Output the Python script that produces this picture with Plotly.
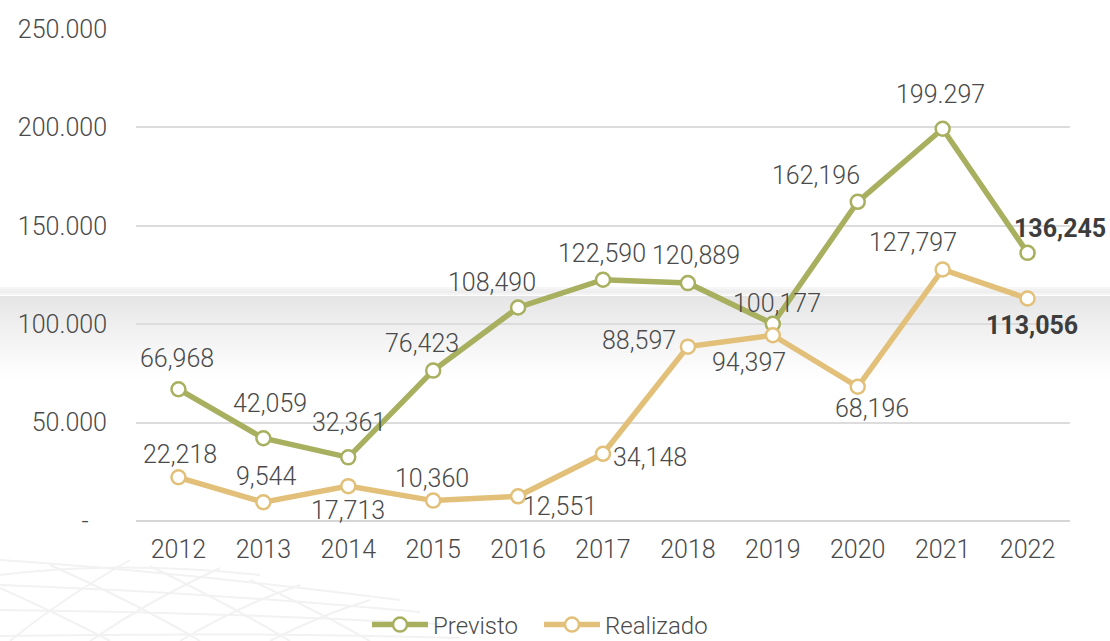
import plotly.graph_objects as go

# --- data -------------------------------------------------------------
years = ["2012", "2013", "2014", "2015", "2016", "2017",
         "2018", "2019", "2020", "2021", "2022"]

previsto = [66968, 42059, 32361, 76423, 108490, 122590,
            120889, 100177, 162196, 199297, 136245]
realizado = [22218, 9544, 17713, 10360, 12551, 34148,
             88597, 94397, 68196, 127797, 113056]

previsto_labels = ["66,968", "42,059", "32,361", "76,423", "108,490", "122,590",
                   "120,889", "100,177", "162,196", "199.297", "136,245"]
realizado_labels = ["22,218", "9,544", "17,713", "10,360", "12,551", "34,148",
                    "88,597", "94,397", "68,196", "127,797", "113,056"]

y_ticks = [0, 50000, 100000, 150000, 200000, 250000]
y_tick_text = ["-\u00a0\u00a0\u00a0", "50.000", "100.000", "150.000", "200.000", "250.000"]

# --- style ------------------------------------------------------------
GREEN = "#A8B05F"
GOLD = "#E2C079"
TEXT = "#4a4a4a"
FONT = "Roboto"

W, H = 1110, 641
M_L, M_R, M_T, M_B = 136, 40, 29, 120
PLOT_H = H - M_T - M_B
PLOT_W = W - M_L - M_R

# label offsets (px) relative to each point
prev_shift = [(-1, -31), (7, -35), (1, -35), (-11, -27), (-26, -25), (-1, -26),
              (8, -28), (4, -20), (-42, -26), (-2, -34), (32, -24)]
real_shift = [(2, -23), (3, -26), (0, 24), (-1, -22), (42, 10), (47, 4),
              (-49, -6), (-24, 27), (14, 22), (-30, -27), (4, 27)]

fig = go.Figure()

fig.add_trace(go.Scatter(
    x=years, y=previsto, name="Previsto", mode="lines+markers",
    line=dict(color=GREEN, width=5.5),
    marker=dict(size=14, color="white", line=dict(color=GREEN, width=2.5)),
    hoverinfo="skip",
))
fig.add_trace(go.Scatter(
    x=years, y=realizado, name="Realizado", mode="lines+markers",
    line=dict(color=GOLD, width=5.5),
    marker=dict(size=14, color="white", line=dict(color=GOLD, width=2.5)),
    hoverinfo="skip",
))

annotations = []
for series, labels, shifts in ((previsto, previsto_labels, prev_shift),
                               (realizado, realizado_labels, real_shift)):
    for i, (v, lab, (dx, dy)) in enumerate(zip(series, labels, shifts)):
        bold = i == len(years) - 1
        annotations.append(dict(
            # category index keeps numeric-looking year names from being read as numbers
            x=i, y=v, xref="x", yref="y", text=f"<b>{lab}</b>" if bold else lab,
            showarrow=False, xshift=dx, yshift=-dy,
            font=dict(family=FONT, size=25, color="#3d3d3d" if bold else TEXT,
                      weight=500 if bold else 300),
        ))


def px_x(px):
    return (px - M_L) / PLOT_W


def px_y(py):
    return (H - M_B - py) / PLOT_H


shapes = []

# faint wireframe decoration in the lower-left corner
MESH = "#f2f2f2"
mesh_paths = [
    # sweeping curves toward the horizon
    [(0, 560), (180, 572), (400, 600)],
    [(0, 585), (200, 592), (420, 612)],
    [(0, 610), (220, 612), (440, 624)],
    [(0, 636), (240, 632), (460, 638)],
    [(0, 575), (120, 560), (260, 575)],
    # diagonals one way
    [(10, 641), (60, 600), (130, 560)],
    [(90, 641), (150, 600), (220, 568)],
    [(180, 641), (240, 605), (300, 585)],
    [(270, 641), (320, 615), (370, 600)],
    # diagonals the other way
    [(0, 588), (60, 615), (110, 641)],
    [(50, 565), (140, 605), (200, 641)],
    [(150, 566), (230, 605), (290, 641)],
    [(250, 580), (320, 612), (370, 641)],
]
for pts in mesh_paths:
    (xa, ya), (xb, yb), (xc, yc) = pts
    path = (f"M {px_x(xa)},{px_y(ya)} Q {px_x(xb)},{px_y(yb)} {px_x(xc)},{px_y(yc)}")
    shapes.append(dict(type="path", xref="paper", yref="paper", path=path,
                       line=dict(color=MESH, width=2), layer="below"))

# soft grey band across the middle of the canvas
x0p, x1p = px_x(0), px_x(W)
for py, c in ((287, "#f6f6f6"), (289, "#f1f1f1"), (291, "#eeeeee"), (293, "#f4f4f4")):
    shapes.append(dict(type="rect", xref="paper", yref="paper", x0=x0p, x1=x1p,
                       y0=px_y(py + 2), y1=px_y(py), fillcolor=c,
                       line=dict(width=0), layer="below"))
top, bottom = 296, 380
steps = 42
for k in range(steps):
    a = top + (bottom - top) * k / steps
    b = top + (bottom - top) * (k + 1) / steps
    t = k / (steps - 1)
    g = int(round(229 + (255 - 229) * t ** 0.9))
    shapes.append(dict(type="rect", xref="paper", yref="paper", x0=x0p, x1=x1p,
                       y0=px_y(b + 0.5), y1=px_y(a),
                       fillcolor=f"rgb({g},{g},{g})", line=dict(width=0), layer="below"))

fig.update_layout(
    width=W, height=H,
    margin=dict(l=M_L, r=M_R, t=M_T, b=M_B, pad=0, autoexpand=False),
    paper_bgcolor="white", plot_bgcolor="rgba(0,0,0,0)",
    font=dict(family=FONT, size=25, color=TEXT, weight=300),
    showlegend=True,
    legend=dict(orientation="h", x=px_x(367), y=px_y(625), xanchor="left", yanchor="middle",
                font=dict(family=FONT, size=24, color=TEXT, weight=300),
                bgcolor="rgba(0,0,0,0)", itemwidth=56, tracegroupgap=0,
                entrywidth=101, entrywidthmode="pixels"),
    annotations=annotations,
    shapes=shapes,
)

fig.update_xaxes(
    type="category", range=[-0.5, 10.5], showgrid=False, zeroline=False, showline=False,
    ticks="", ticklabelstandoff=11,
    tickfont=dict(family=FONT, size=25, color=TEXT, weight=300),
)
fig.update_yaxes(
    range=[0, 250000], tickvals=y_ticks, ticktext=y_tick_text,
    showgrid=True, gridcolor="#dcdcdc", gridwidth=1.5,
    zeroline=True, zerolinecolor="#d6d6d6", zerolinewidth=1.5,
    showline=False, ticks="", ticklabelstandoff=28,
    tickfont=dict(family=FONT, size=25, color=TEXT, weight=300),
)

fig.write_html("out.html")
